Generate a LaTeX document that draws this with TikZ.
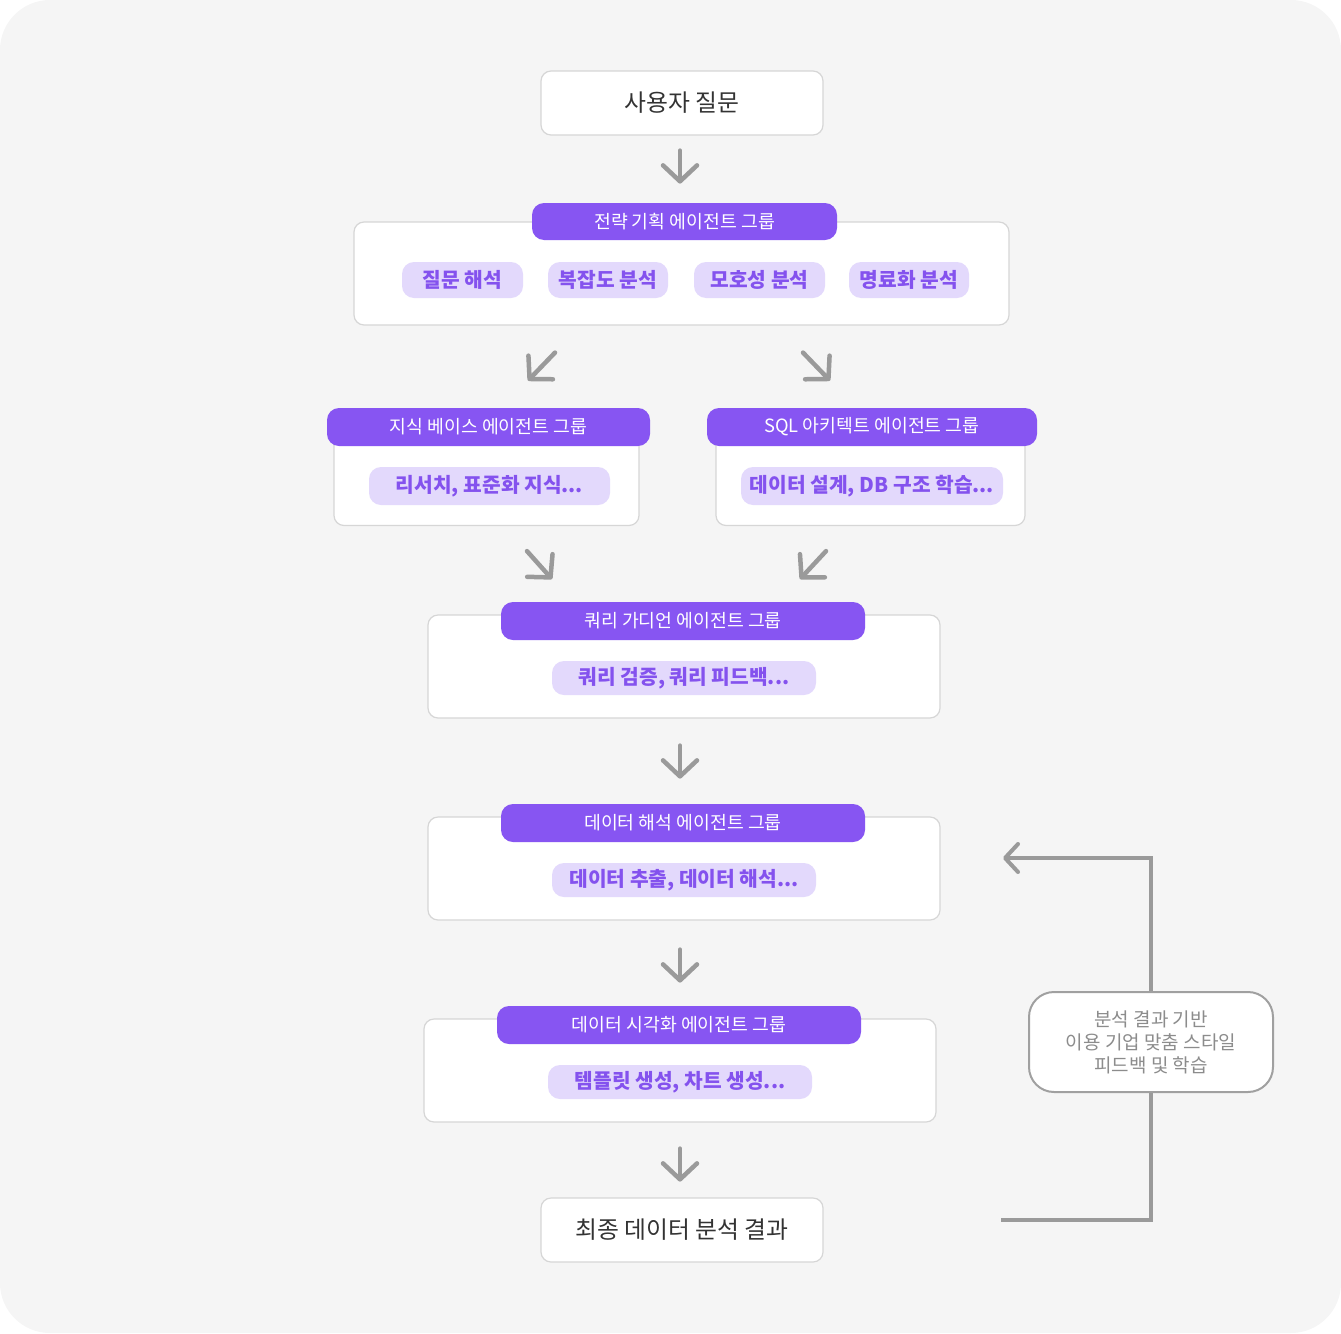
\documentclass[tikz,border=0pt]{standalone}
\usepackage{fontspec}
\setmainfont{Noto Sans CJK KR}
\usetikzlibrary{arrows.meta,calc}
\definecolor{bg}{HTML}{F5F5F5}
\definecolor{boxline}{HTML}{D6D6D6}
\definecolor{purp}{HTML}{8755F2}
\definecolor{chipbg}{HTML}{E3D9FC}
\definecolor{chiptxt}{HTML}{8452EE}
\definecolor{arrgray}{HTML}{9A9A9A}
\definecolor{darktxt}{HTML}{333333}
\definecolor{fbtxt}{HTML}{8C8C8C}
\definecolor{fbline}{HTML}{A0A0A0}
\tikzset{
  endbox/.style={draw=boxline, fill=white, rounded corners=10pt, line width=1.2pt, inner sep=0pt,
    minimum width=282pt, minimum height=64pt, text=darktxt, font=\fontsize{23.8}{26}\selectfont},
  grpbox/.style={draw=boxline, fill=white, rounded corners=10pt, line width=1.2pt, inner sep=0pt},
  header/.style={fill=purp, rounded corners=12pt, inner sep=0pt, text=white,
    font=\fontsize{18.3}{20}\selectfont, minimum height=38pt},
  chip/.style={fill=chipbg, rounded corners=12pt, inner sep=0pt, text=chiptxt,
    font=\bfseries\fontsize{20.3}{22}\selectfont, minimum height=36pt},
  arr/.style={draw=arrgray, line width=4.5pt, line cap=round,
    -{Straight Barb[length=16pt,width=34pt,line cap=round,line join=round]}},
  fbarr/.style={draw=arrgray, line width=4pt,
    -{Straight Barb[length=13pt,width=28pt,line cap=round,line join=round]}},
  fbbox/.style={draw=fbline, fill=white, rounded corners=25pt, line width=2pt, inner sep=0pt,
    minimum width=244pt, minimum height=100pt, text=fbtxt, align=center,
    font=\fontsize{19}{23}\selectfont}
}
\begin{document}
\begin{tikzpicture}[x=1pt,y=-1pt]
\useasboundingbox (0,0) rectangle (1341,1333);
\fill[bg, rounded corners=50pt] (0,0) rectangle (1341,1333);

% top
\node[endbox] (top) at (682,103) {사용자 질문};

% strategy group
\node[grpbox, minimum width=655pt, minimum height=103pt] (g1) at (681.5,273.5) {};
\node[header, minimum width=305pt, minimum height=37pt] (g1h) at (684.5,221.5) {전략 기획 에이전트 그룹};
\node[chip, minimum width=121pt] (c11) at (462.5,280) {질문 해석};
\node[chip, minimum width=120pt] (c12) at (608,280) {복잡도 분석};
\node[chip, minimum width=131pt] (c13) at (759.5,280) {모호성 분석};
\node[chip, minimum width=120pt] (c14) at (909,280) {명료화 분석};

% knowledge base
\node[grpbox, minimum width=305pt, minimum height=96pt] (kb) at (486.5,477.5) {};
\node[header, minimum width=323pt] (kbh) at (488.5,427) {지식 베이스 에이전트 그룹};
\node[chip, minimum width=241pt, minimum height=38pt] (kbc) at (489.5,486) {리서치, 표준화 지식...};

% SQL architect
\node[grpbox, minimum width=309pt, minimum height=96pt] (sq) at (870.5,477.5) {};
\node[header, minimum width=330pt] (sqh) at (872,427) {SQL 아키텍트 에이전트 그룹};
\node[chip, minimum width=262pt, minimum height=38pt] (sqc) at (872,486) {데이터 설계, DB 구조 학습...};

% query guardian
\node[grpbox, minimum width=512pt, minimum height=103pt] (qg) at (684,666.5) {};
\node[header, minimum width=364pt] (qgh) at (683,621) {쿼리 가디언 에이전트 그룹};
\node[chip, minimum width=264pt, minimum height=34pt] (qgc) at (684,678) {쿼리 검증, 쿼리 피드백...};

% data interpretation
\node[grpbox, minimum width=512pt, minimum height=103pt] (di) at (684,868.5) {};
\node[header, minimum width=364pt] (dih) at (683,823) {데이터 해석 에이전트 그룹};
\node[chip, minimum width=264pt, minimum height=34pt] (dic) at (684,880) {데이터 추출, 데이터 해석...};

% data visualisation
\node[grpbox, minimum width=512pt, minimum height=103pt] (dv) at (680,1070.5) {};
\node[header, minimum width=364pt] (dvh) at (679,1025) {데이터 시각화 에이전트 그룹};
\node[chip, minimum width=264pt, minimum height=34pt] (dvc) at (680,1082) {템플릿 생성, 차트 생성...};

% final
\node[endbox] (fin) at (682,1230) {최종 데이터 분석 결과};

% vertical arrows
\draw[arr] ($(top.south)+(-2,15)$) -- ++(0,33);
\draw[arr] ($(qg.south)+(-4,27)$) -- ++(0,33);
\draw[arr] ($(di.south)+(-4,29)$) -- ++(0,33);
\draw[arr] ($(dv.south)+(0,26)$) -- ++(0,33);

% diagonal arrows
\draw[arr] ($(g1.south)+(-126.5,27)$) -- ++(-27,28);
\draw[arr] ($(g1.south)+(121.5,27)$) -- ++(27,28);
\draw[arr] ($(kb.south)+(40.5,25)$) -- ++(25,28);
\draw[arr] ($(sq.south)+(-44.5,25)$) -- ++(-26,28);

% feedback loop
\coordinate (fbs) at (1001,1220);
\coordinate (fbe) at (1003,858);
\node[fbbox] (fb) at (1151,1042) {분석 결과 기반\\이용 기업 맞춤 스타일\\피드백 및 학습};
\draw[draw=arrgray, line width=4pt] (fbs) -| (fb.south);
\draw[fbarr] (fb.north) |- (fbe);
\end{tikzpicture}
\end{document}
